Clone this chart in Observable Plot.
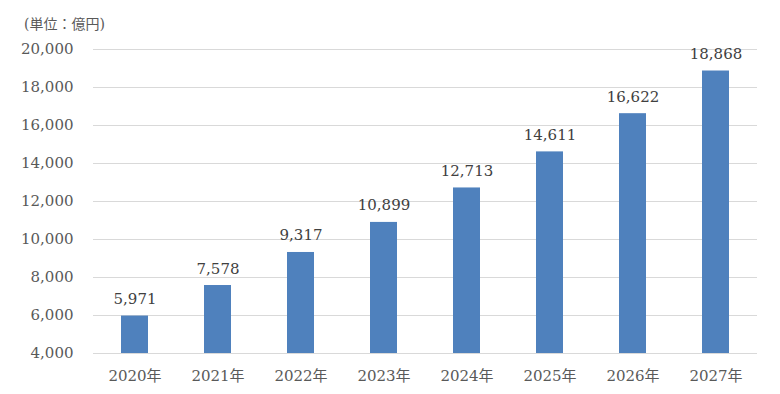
<!DOCTYPE html>
<html><head><meta charset="utf-8">
<script src="https://cdn.jsdelivr.net/npm/d3@7"></script>
<script src="https://cdn.jsdelivr.net/npm/@observablehq/plot@0.6"></script>
<style>
body{margin:0;background:#fff;}
#wrap{position:relative;width:780px;height:394px;font-family:"DejaVu Serif","Noto Sans CJK JP",serif;}
#unit{position:absolute;left:24px;top:13px;font-size:14px;color:#595959;}
</style></head>
<body><div id="wrap"><div id="unit">(単位：億円)</div></div>
<script>
const years = ["2020年","2021年","2022年","2023年","2024年","2025年","2026年","2027年"];
const values = [5971,7578,9317,10899,12713,14611,16622,18868];
const yTicks = [4000,6000,8000,10000,12000,14000,16000,18000,20000];
const data = years.map((y,i)=>({year:y,value:values[i]}));
const fmt = d3.format(",");
const chart = Plot.plot({
  width:780,height:394,
  marginLeft:93,marginRight:23,marginTop:49,marginBottom:41,
  style:{fontFamily:'"DejaVu Serif","Noto Sans CJK JP",serif',fontSize:"15px",color:"#595959",background:"transparent"},
  x:{domain:years,paddingInner:0.675,paddingOuter:0.3375,label:null,tickSize:0,tickPadding:17},
  y:{domain:[4000,20000],ticks:yTicks,tickFormat:fmt,label:null,tickSize:0,tickPadding:20},
  marks:[
    Plot.gridY(yTicks,{stroke:"#d9d9d9",strokeOpacity:1,strokeWidth:1}),
    Plot.barY(data,{x:"year",y1:4000,y2:"value",fill:"#4f81bd"}),
    Plot.text(data,{x:"year",y:"value",text:d=>fmt(d.value),lineAnchor:"bottom",dy:-12,fill:"#404040",fontSize:15})
  ]
});
document.getElementById("wrap").prepend(chart);
</script></body></html>
